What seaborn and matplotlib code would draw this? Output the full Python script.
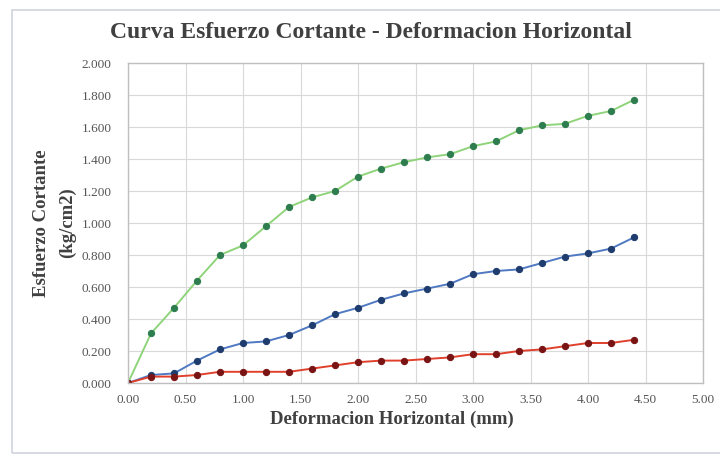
import numpy as np
import pandas as pd
import seaborn as sns
import matplotlib.pyplot as plt

# horizontal deformation (mm)
deformacion = [0.0, 0.2, 0.4, 0.6, 0.8, 1.0, 1.2, 1.4, 1.6, 1.8, 2.0, 2.2,
               2.4, 2.6, 2.8, 3.0, 3.2, 3.4, 3.6, 3.8, 4.0, 4.2, 4.4]

# shear stress (kg/cm2) for the three specimens
esfuerzo_alto = [0.00, 0.31, 0.47, 0.64, 0.80, 0.86, 0.98, 1.10, 1.16, 1.20, 1.29, 1.34,
                 1.38, 1.41, 1.43, 1.48, 1.51, 1.58, 1.61, 1.62, 1.67, 1.70, 1.77]
esfuerzo_medio = [0.00, 0.05, 0.06, 0.14, 0.21, 0.25, 0.26, 0.30, 0.36, 0.43, 0.47, 0.52,
                  0.56, 0.59, 0.62, 0.68, 0.70, 0.71, 0.75, 0.79, 0.81, 0.84, 0.91]
esfuerzo_bajo = [0.00, 0.04, 0.04, 0.05, 0.07, 0.07, 0.07, 0.07, 0.09, 0.11, 0.13, 0.14,
                 0.14, 0.15, 0.16, 0.18, 0.18, 0.20, 0.21, 0.23, 0.25, 0.25, 0.27]

x_ticks = [0.0, 0.5, 1.0, 1.5, 2.0, 2.5, 3.0, 3.5, 4.0, 4.5, 5.0]
y_ticks = [0.0, 0.2, 0.4, 0.6, 0.8, 1.0, 1.2, 1.4, 1.6, 1.8, 2.0]

df = pd.DataFrame({
    'Deformacion': deformacion,
    'Alto': esfuerzo_alto,
    'Medio': esfuerzo_medio,
    'Bajo': esfuerzo_bajo,
})

sns.set_theme(style='whitegrid')
plt.rcParams['font.family'] = ['Liberation Serif', 'DejaVu Serif']

fig = plt.figure(figsize=(7.2, 4.55), dpi=100)
ax = fig.add_axes([128 / 720, 1 - 383 / 455, 575 / 720, 320 / 455])

# (column, line colour, marker colour)
series = [
    ('Alto', '#8fd47a', '#2e7d4f'),
    ('Medio', '#4f79c2', '#1f3c6e'),
    ('Bajo', '#e0402c', '#7a1414'),
]
for col, line_c, mark_c in series:
    sns.lineplot(data=df, x='Deformacion', y=col, ax=ax, color=line_c,
                 linewidth=1.4, marker='o', markersize=4.5,
                 markerfacecolor=mark_c, markeredgecolor=mark_c)

ax.set_xlim(0, 5)
ax.set_ylim(0, 2)
ax.set_xticks(x_ticks)
ax.set_yticks(y_ticks)
ax.set_xticklabels([f'{v:.2f}' for v in x_ticks])
ax.set_yticklabels([f'{v:.3f}' for v in y_ticks])
ax.tick_params(axis='both', labelsize=9.5, colors='#555555', length=0)
ax.tick_params(axis='x', pad=8)
ax.tick_params(axis='y', pad=12)
ax.set_xlabel('')
ax.set_ylabel('')
ax.grid(True, color='#d9d9d9', linewidth=0.8)
ax.set_facecolor('white')
for sp in ax.spines.values():
    sp.set_color('#bfbfbf')
    sp.set_linewidth(1.0)

fig.text(371 / 720, 1 - 33 / 455, 'Curva Esfuerzo Cortante - Deformacion Horizontal',
         ha='center', va='center', fontsize=17, fontweight='bold', color='#404040')
fig.text(392 / 720, 1 - 419 / 455, 'Deformacion Horizontal (mm)',
         ha='center', va='center', fontsize=13.5, fontweight='bold', color='#404040')
fig.text(42 / 720, 1 - 223 / 455, 'Esfuerzo Cortante', rotation=90,
         ha='center', va='center', fontsize=13.5, fontweight='bold', color='#404040')
fig.text(67 / 720, 1 - 223 / 455, '(kg/cm2)', rotation=90,
         ha='center', va='center', fontsize=13.5, fontweight='bold', color='#404040')

# chart area border
fig.patches.append(plt.Rectangle((12 / 720, 1 - 453 / 455), 1.0, 443 / 455,
                                 transform=fig.transFigure, fill=False,
                                 edgecolor='#d0d4dc', linewidth=1.2))

fig.savefig('out.png', dpi=100, facecolor='white')
